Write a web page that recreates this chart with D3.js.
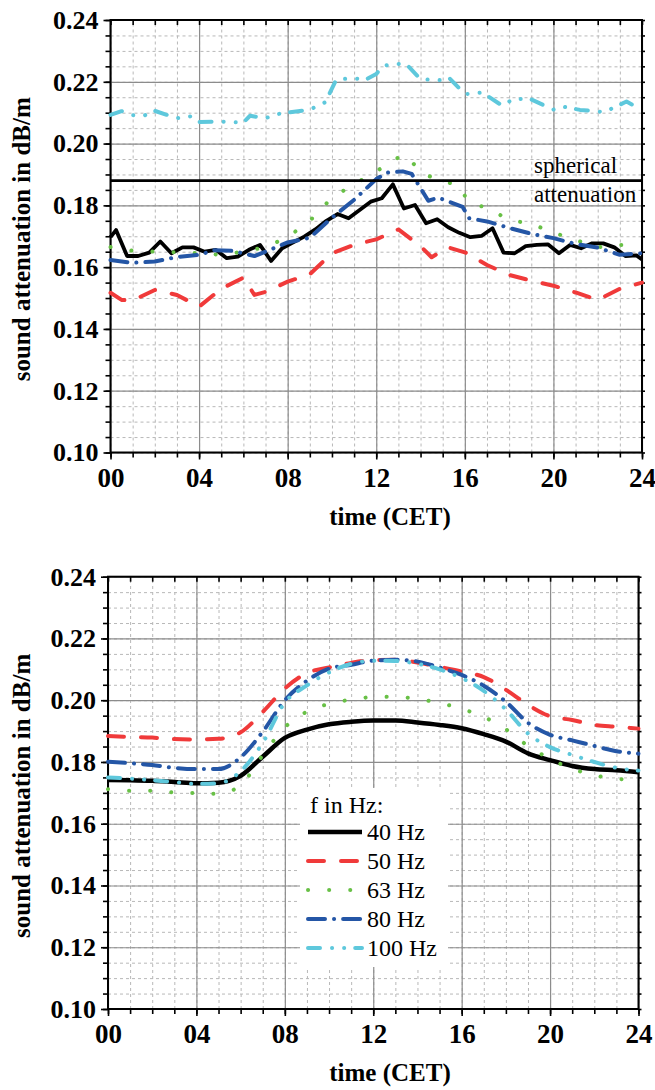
<!DOCTYPE html>
<html>
<head>
<meta charset="utf-8">
<script src="https://cdn.jsdelivr.net/npm/d3@7"></script>
<style>
  body { margin: 0; background: #fff; }
  svg { display: block; font-family: "Liberation Serif", "Times New Roman", serif; }
  .grid-minor line { stroke: #b8b8b8; stroke-width: 1; stroke-dasharray: 3,3; }
  .grid-major line { stroke: #8c8c8c; stroke-width: 1.2; }
  .grid-minor path, .grid-major path { display: none; }
  .ax path { display: none; }
  .ax line { stroke: #000; stroke-width: 1.6; }
  .ax text { font-family: "Liberation Serif", serif; font-weight: bold; fill: #000; }
</style>
</head>
<body>
<div id="chart"></div>
<script>
/* ---- data ------------------------------------------------------------ */
var hourTicks = [0, 4, 8, 12, 16, 20, 24];
var valueTicks = [0.10, 0.12, 0.14, 0.16, 0.18, 0.20, 0.22, 0.24];
var freqLabels = ["40 Hz", "50 Hz", "63 Hz", "80 Hz", "100 Hz"];
var sphericalAttenuation = 0.188;

// upper panel: measured values
var top40Hours = [0,0.25,0.75,1.25,1.75,2.25,2.75,3.25,3.75,4.25,4.75,5.25,5.75,6.25,6.75,7.25,7.75,8.25,8.75,9.25,9.75,10.25,10.75,11.25,11.75,12.25,12.75,13.25,13.75,14.25,14.75,15.25,15.75,16.25,16.75,17.25,17.75,18.25,18.75,19.25,19.75,20.25,20.75,21.25,21.75,22.25,22.75,23.25,23.75,24];
var top40 = [0.1697,0.1720,0.1636,0.1636,0.1647,0.1683,0.1645,0.1664,0.1664,0.1650,0.1656,0.1629,0.1634,0.1656,0.1672,0.1620,0.1661,0.1680,0.1699,0.1722,0.1750,0.1772,0.1758,0.1785,0.1812,0.1823,0.1868,0.1790,0.1801,0.1742,0.1755,0.1729,0.1711,0.1697,0.1701,0.1726,0.1647,0.1645,0.1668,0.1672,0.1674,0.1645,0.1672,0.1661,0.1677,0.1677,0.1664,0.1636,0.1638,0.1625];

var top50Hours = [0,0.5,1,2,3,4,5,6,6.5,7,8,9,10,11,12,13,14,14.5,15.25,16,17,18,19,20,21,22,23,24];
var top50 = [0.1517,0.1494,0.1492,0.1526,0.1510,0.1472,0.1530,0.1566,0.1510,0.1520,0.1553,0.1577,0.1645,0.1672,0.1690,0.1722,0.1668,0.1632,0.1664,0.1648,0.1607,0.1575,0.1556,0.1540,0.1518,0.1494,0.1530,0.1550];

var top63Hours = [0,1,2,3,4,5,6,7,8,9,10,11,12,13,13.4,14,15,15.7,16.2,17,18,19,20,21,22,23,24];
var top63 = [0.1665,0.1653,0.1650,0.1648,0.1645,0.1640,0.1650,0.1665,0.1697,0.1750,0.1825,0.1868,0.1910,0.1955,0.1962,0.1905,0.1878,0.1866,0.1808,0.1792,0.1753,0.1740,0.1712,0.1688,0.1664,0.1672,0.1672];

var top80Hours = [0,1,2,3,4,4.7,5.5,6.5,7,8,9,10,11,12,12.5,13.2,13.6,14.35,14.8,15.9,16.2,17,18,19,20,21,22,23,24];
var top80 = [0.1623,0.1614,0.1618,0.1633,0.1640,0.1655,0.1653,0.1636,0.1650,0.1680,0.1695,0.1760,0.1818,0.1885,0.1906,0.1910,0.1902,0.1815,0.1825,0.1795,0.1758,0.1748,0.1727,0.1708,0.1694,0.1675,0.1663,0.1640,0.1645];

var top100Hours = [0,0.5,1,1.5,2,3,3.6,4,5,6,6.3,7,7.5,8,9,9.7,10.2,11,11.5,12,12.3,13,13.4,14,15,15.3,16,16.8,17.7,18.2,19,20,20.4,21.2,22.3,23.3,24];
var top100 = [0.2093,0.2105,0.2092,0.2090,0.2106,0.2082,0.2088,0.2070,0.2071,0.2068,0.2090,0.2082,0.2095,0.2100,0.2110,0.2134,0.2208,0.2211,0.2206,0.2225,0.2252,0.2258,0.2254,0.2208,0.2205,0.2212,0.2160,0.2165,0.2122,0.2145,0.2143,0.2110,0.2120,0.2109,0.2102,0.2136,0.2108];

// lower panel: mean diurnal course
var bottomHours = [0,1,2,3,4,5,6,7,8,9,10,11,12,13,14,15,16,17,18,19,20,21,22,23,24];
var bottom40 = [0.1742,0.1741,0.1739,0.1735,0.1731,0.1733,0.1755,0.1817,0.1878,0.1905,0.1922,0.1930,0.1934,0.1934,0.1928,0.1920,0.1909,0.1890,0.1866,0.1828,0.1806,0.1787,0.1777,0.1773,0.1767];
var bottom50 = [0.1884,0.1881,0.1879,0.1874,0.1873,0.1875,0.1896,0.1962,0.2038,0.2088,0.2106,0.2121,0.2130,0.2131,0.2122,0.2108,0.2093,0.2075,0.2034,0.1985,0.1948,0.1936,0.1920,0.1914,0.1908];
var bottom63 = [0.1712,0.1707,0.1707,0.1701,0.1699,0.1697,0.1725,0.1822,0.1912,0.1963,0.1988,0.2002,0.2010,0.2011,0.2004,0.1991,0.1972,0.1946,0.1906,0.1852,0.1810,0.1778,0.1757,0.1746,0.1740];
var bottom80 = [0.1801,0.1796,0.1790,0.1781,0.1777,0.1777,0.1815,0.1898,0.2000,0.2063,0.2102,0.2115,0.2128,0.2131,0.2125,0.2106,0.2082,0.2047,0.1995,0.1927,0.1888,0.1870,0.1852,0.1835,0.1827];
var bottom100 = [0.1750,0.1746,0.1741,0.1735,0.1729,0.1731,0.1770,0.1862,0.1992,0.2048,0.2090,0.2118,0.2128,0.2127,0.2118,0.2100,0.2072,0.2030,0.1970,0.1892,0.1848,0.1823,0.1800,0.1781,0.1772];

/* ---- line styles, one per frequency -------------------------------- */
var styles = [
    { color: "#000000", dash: null },
    { color: "#f03a3a", dash: "16,17" },
    { color: "#68c046", dash: "0.1,21" },
    { color: "#2456a6", dash: "17,9,0.1,9" },
    { color: "#5ec8dc", dash: "12,12,0.1,12,0.1,11" }
];

function pairs(hours, vals) {
    return hours.map(function(h, i) { return [h, vals[i]]; });
}

var svg = d3.select("#chart").append("svg")
    .attr("width", 655)
    .attr("height", 1090);

/* DRAW PANEL - frame, grid, axes and titles for one plot ---------------- */
function drawPanel(p) {
    var x = d3.scaleLinear().domain([0, 24]).range([p.left, p.right]);
    var y = d3.scaleLinear().domain([0.10, 0.24]).range([p.bottom, p.top]);
    var w = p.right - p.left, h = p.bottom - p.top;
    var g = svg.append("g");

    var minorH = d3.range(0, 24.5, 1);
    var minorV = d3.range(0.10, 0.2401, 0.005);

    // dashed minor grid
    g.append("g").attr("class", "grid-minor")
        .attr("transform", "translate(0," + p.bottom + ")")
        .call(d3.axisBottom(x).tickValues(minorH).tickSize(-h).tickFormat(""));
    g.append("g").attr("class", "grid-minor")
        .attr("transform", "translate(" + p.left + ",0)")
        .call(d3.axisLeft(y).tickValues(minorV).tickSize(-w).tickFormat(""));
    // solid major grid
    g.append("g").attr("class", "grid-major")
        .attr("transform", "translate(0," + p.bottom + ")")
        .call(d3.axisBottom(x).tickValues(hourTicks).tickSize(-h).tickFormat(""));
    g.append("g").attr("class", "grid-major")
        .attr("transform", "translate(" + p.left + ",0)")
        .call(d3.axisLeft(y).tickValues(valueTicks).tickSize(-w).tickFormat(""));

    // minor ticks all round
    g.append("g").attr("class", "ax")
        .attr("transform", "translate(0," + p.bottom + ")")
        .call(d3.axisBottom(x).tickValues(minorH).tickSize(5).tickFormat(""));
    g.append("g").attr("class", "ax")
        .attr("transform", "translate(0," + p.top + ")")
        .call(d3.axisBottom(x).tickValues(minorH).tickSize(5).tickFormat(""));
    g.append("g").attr("class", "ax")
        .attr("transform", "translate(" + p.left + ",0)")
        .call(d3.axisLeft(y).tickValues(minorV).tickSize(5).tickFormat(""));
    g.append("g").attr("class", "ax")
        .attr("transform", "translate(" + p.right + ",0)")
        .call(d3.axisRight(y).tickValues(minorV).tickSize(3).tickFormat(""));

    // labelled ticks
    g.append("g").attr("class", "ax")
        .attr("transform", "translate(0," + p.bottom + ")")
        .call(d3.axisBottom(x).tickValues(hourTicks).tickSize(7).tickPadding(8)
            .tickFormat(d3.format("02d")))
        .selectAll("text").style("font-size", "27px");
    g.append("g").attr("class", "ax")
        .attr("transform", "translate(" + p.left + ",0)")
        .call(d3.axisLeft(y).tickValues(valueTicks).tickSize(7).tickPadding(5)
            .tickFormat(d3.format(".2f")))
        .selectAll("text").style("font-size", "26px");

    // frame
    g.append("rect")
        .attr("x", p.left).attr("y", p.top)
        .attr("width", w).attr("height", h)
        .attr("fill", "none").attr("stroke", "#000").attr("stroke-width", 2);

    // titles
    g.append("text")
        .attr("x", 390).attr("y", p.bottom + 72)
        .attr("text-anchor", "middle")
        .style("font-size", "25px").style("font-weight", "bold")
        .text("time (CET)");
    g.append("text")
        .attr("transform", "translate(30," + (p.top + h / 2 + 3) + ") rotate(-90)")
        .attr("text-anchor", "middle")
        .style("font-size", "25px").style("font-weight", "bold")
        .text("sound attenuation in dB/m");

    return { x: x, y: y, g: g };
}

function drawSeries(panel, data, st, width, curve) {
    var line = d3.line()
        .x(function(d) { return panel.x(d[0]); })
        .y(function(d) { return panel.y(d[1]); })
        .curve(curve);
    panel.g.append("path")
        .datum(data)
        .attr("d", line)
        .attr("fill", "none")
        .attr("stroke", st.color)
        .attr("stroke-width", width)
        .attr("stroke-linecap", st.dash ? "round" : "butt")
        .attr("stroke-linejoin", "round")
        .attr("stroke-dasharray", st.dash);
}

/* ---- upper panel --------------------------------------------------- */
var upper = drawPanel({ left: 110.5, right: 642, top: 20, bottom: 452.5 });
var upperSets = [pairs(top40Hours, top40), pairs(top50Hours, top50), pairs(top63Hours, top63),
                 pairs(top80Hours, top80), pairs(top100Hours, top100)];
upperSets.forEach(function(d, i) {
    drawSeries(upper, d, styles[i], i === 0 ? 3.8 : 4, d3.curveLinear);
});

// spherical attenuation reference line
upper.g.append("line")
    .attr("x1", upper.x(0)).attr("x2", upper.x(24))
    .attr("y1", upper.y(sphericalAttenuation)).attr("y2", upper.y(sphericalAttenuation))
    .attr("stroke", "#000").attr("stroke-width", 2.6);
upper.g.append("text")
    .attr("x", 534).attr("y", upper.y(sphericalAttenuation) - 8)
    .style("font-size", "23px")
    .text("spherical");
upper.g.append("text")
    .attr("x", 534).attr("y", upper.y(sphericalAttenuation) + 21)
    .style("font-size", "23px")
    .text("attenuation");

/* ---- lower panel --------------------------------------------------- */
var lower = drawPanel({ left: 108, right: 638.5, top: 576.7, bottom: 1009 });
var lowerSets = [bottom40, bottom50, bottom63, bottom80, bottom100];

// legend box sits behind the curves
var lg = lower.g.append("g").attr("transform", "translate(300,788)");
lg.append("rect").attr("width", 148).attr("height", 179).attr("fill", "#fff");

lowerSets.forEach(function(vals, i) {
    drawSeries(lower, pairs(bottomHours, vals), styles[i], i === 0 ? 4.5 : 4, d3.curveMonotoneX);
});

lg.append("text").attr("x", 10).attr("y", 25)
    .style("font-size", "24px").text("f in Hz:");
freqLabels.forEach(function(lab, i) {
    var yy = 44 + i * 29;
    lg.append("line")
        .attr("x1", 8).attr("x2", 62).attr("y1", yy).attr("y2", yy)
        .attr("stroke", styles[i].color)
        .attr("stroke-width", i === 0 ? 4.5 : 4)
        .attr("stroke-linecap", styles[i].dash ? "round" : "butt")
        .attr("stroke-dasharray", styles[i].dash);
    lg.append("text").attr("x", 67).attr("y", yy + 8)
        .style("font-size", "24px").text(lab);
});
</script>
</body>
</html>
